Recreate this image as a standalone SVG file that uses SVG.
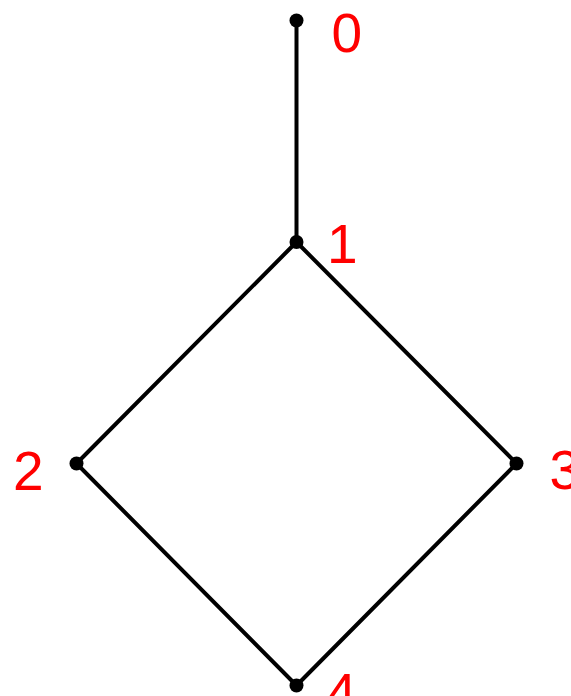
<svg xmlns="http://www.w3.org/2000/svg" width="571" height="696" viewBox="0 0 571 696">
<style>
.edge{stroke:#000;stroke-width:4;fill:none;stroke-linecap:round}
.dot{fill:#000}
.lbl{fill:#ff0000;font-family:"Liberation Sans",Arial,sans-serif;font-size:55px}
</style>
<rect width="571" height="696" fill="#fff"/>
<g id="edges">
<line class="edge" x1="296.5" y1="20.5" x2="296.5" y2="242"/>
<line class="edge" x1="296.5" y1="242" x2="76.5" y2="463.5"/>
<line class="edge" x1="296.5" y1="242" x2="516.5" y2="463.5"/>
<line class="edge" x1="76.5" y1="463.5" x2="296.5" y2="685.5"/>
<line class="edge" x1="516.5" y1="463.5" x2="296.5" y2="685.5"/>
</g>
<g id="node0"><circle class="dot" cx="296.5" cy="20.5" r="7"/><text class="lbl" x="331.5" y="52">0</text></g>
<g id="node1"><circle class="dot" cx="296.5" cy="242" r="7"/><text class="lbl" x="327" y="263">1</text></g>
<g id="node2"><circle class="dot" cx="76.5" cy="463.5" r="7"/><text class="lbl" x="13" y="490">2</text></g>
<g id="node3"><circle class="dot" cx="516.5" cy="463.5" r="7"/><text class="lbl" x="549.5" y="489">3</text></g>
<g id="node4"><circle class="dot" cx="296.5" cy="685.5" r="7"/><text class="lbl" x="326" y="712">4</text></g>
</svg>
